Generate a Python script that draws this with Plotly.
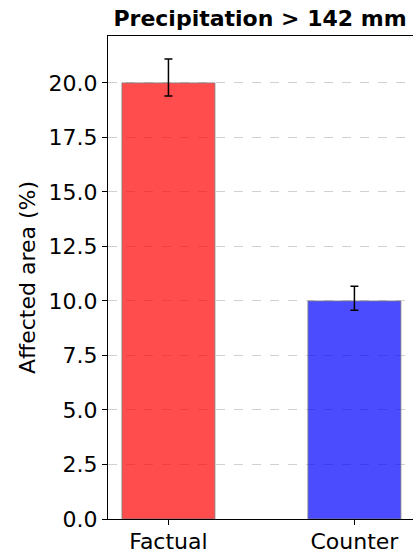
import plotly.graph_objects as go

categories = ["Factual", "Counter"]
values = [20.0, 10.0]
err_plus = [1.1, 0.67]
err_minus = [0.6, 0.43]
colors = ["rgba(255,0,0,0.7)", "rgba(0,0,255,0.7)"]
yticks = [0.0, 2.5, 5.0, 7.5, 10.0, 12.5, 15.0, 17.5, 20.0]

fig = go.Figure()
fig.add_trace(go.Bar(
    x=[0, 1], y=values, width=0.5,
    marker=dict(color=colors, line=dict(color="rgba(128,128,128,0.8)", width=1)),
    error_y=dict(type="data", symmetric=False, array=err_plus, arrayminus=err_minus,
                 color="black", thickness=1.5, width=4),
))

font = "DejaVu Sans"
fs = 22
fig.update_layout(
    width=413, height=552,
    margin=dict(l=108, r=0, t=36, b=33, autoexpand=False),
    plot_bgcolor="white", paper_bgcolor="white",
    showlegend=False,
    font=dict(family=font, size=fs, color="black"),
    title=dict(text="<b>Precipitation > 142 mm</b>", x=260 / 413, xanchor="center",
               y=1 - 18 / 552, yanchor="middle", font=dict(family=font, size=fs, color="black")),
)
fig.update_xaxes(
    range=[-0.325, 1.315], tickvals=[0, 1], ticktext=categories,
    showline=True, linecolor="black", linewidth=1.2, mirror=True,
    ticks="outside", ticklen=5, tickcolor="black", showgrid=False, zeroline=False,
    ticklabelstandoff=-3,
    tickfont=dict(family=font, size=fs, color="black"),
)
fig.update_yaxes(
    range=[0, 22.15], tickvals=yticks, ticktext=[f"{v:.1f}" for v in yticks],
    showline=True, linecolor="black", linewidth=1.2,
    ticks="outside", ticklen=5, tickcolor="black",
    showgrid=True, gridcolor="rgba(190,190,190,0.7)", griddash="dash", gridwidth=1,
    zeroline=False,
    title=dict(text="Affected area (%)", font=dict(family=font, size=fs, color="black"), standoff=6),
    tickfont=dict(family=font, size=fs, color="black"),
)

fig.write_html("out.html", config={"displayModeBar": False},
               post_script="document.body.style.margin='0';document.body.style.padding='0';")
